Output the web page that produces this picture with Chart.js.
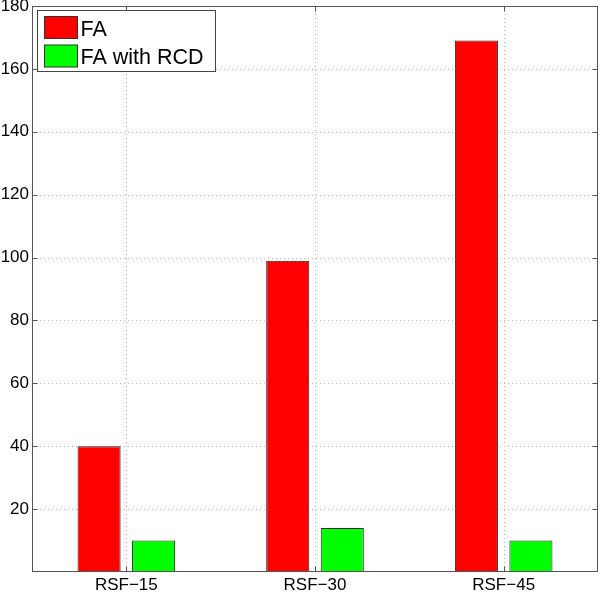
<!DOCTYPE html>
<html>
<head>
<meta charset="utf-8">
<script src="https://cdn.jsdelivr.net/npm/chart.js@4.4.0/dist/chart.umd.min.js"></script>
<style>
html,body{margin:0;padding:0;background:#fff;}
#wrap{width:600px;height:594px;position:relative;}
</style>
</head>
<body>
<div id="wrap"><canvas id="c" width="600" height="594"></canvas></div>
<script>
const categories = ['RSF\u221215', 'RSF\u221230', 'RSF\u221245'];
const seriesNames = ['FA', 'FA with RCD'];
const faValues = [40, 99, 169];
const faRcdValues = [10, 14, 10];
const yTicks = [20, 40, 60, 80, 100, 120, 140, 160, 180];
const seriesColors = ['#ff0000', '#00ff00'];

const FONT = 'Liberation Sans, Helvetica, Arial, sans-serif';

const matlabAxes = {
  id: 'matlabAxes',
  beforeDatasetsDraw(chart) {
    const {ctx, chartArea: a, scales: {x, y}} = chart;
    ctx.save();
    ctx.strokeStyle = '#b8b8b8';
    ctx.lineWidth = 1;
    ctx.setLineDash([1, 3]);
    yTicks.forEach(v => {
      const py = Math.round(y.getPixelForValue(v)) + 0.5;
      ctx.beginPath(); ctx.moveTo(a.left, py); ctx.lineTo(a.right, py); ctx.stroke();
    });
    categories.forEach((c, i) => {
      const px = Math.round(x.getPixelForValue(i)) + 0.5;
      ctx.beginPath(); ctx.moveTo(px, a.top); ctx.lineTo(px, a.bottom); ctx.stroke();
    });
    ctx.restore();
  },
  afterDatasetsDraw(chart) {
    const {ctx, chartArea: a, scales: {x, y}} = chart;
    ctx.save();
    ctx.strokeStyle = '#555';
    ctx.lineWidth = 1;
    ctx.setLineDash([]);
    const L = Math.round(a.left) + 0.5, R = Math.round(a.right) - 0.5;
    const T = Math.round(a.top) + 0.5, B = Math.round(a.bottom) - 0.5;
    ctx.strokeRect(L, T, R - L, B - T);
    const tl = 5;
    ctx.beginPath();
    yTicks.forEach(v => {
      const py = Math.round(y.getPixelForValue(v)) + 0.5;
      ctx.moveTo(L, py); ctx.lineTo(L + tl, py);
      ctx.moveTo(R, py); ctx.lineTo(R - tl, py);
    });
    categories.forEach((c, i) => {
      const px = Math.round(x.getPixelForValue(i)) + 0.5;
      ctx.moveTo(px, B); ctx.lineTo(px, B - tl);
      ctx.moveTo(px, T); ctx.lineTo(px, T + tl);
    });
    ctx.stroke();
    // legend
    const lx = 37.5, ly = 10.5, lw = 178, lh = 61;
    ctx.fillStyle = '#fff';
    ctx.fillRect(lx, ly, lw, lh);
    ctx.strokeStyle = '#444';
    ctx.strokeRect(lx, ly, lw, lh);
    const rows = [16, 44.5];
    chart.data.datasets.forEach((ds, i) => {
      ctx.fillStyle = ds.backgroundColor;
      ctx.fillRect(44.5, rows[i] + 0.5, 33, 22);
      ctx.strokeStyle = '#333';
      ctx.strokeRect(44.5, rows[i] + 0.5, 33, 22);
      ctx.fillStyle = '#000';
      ctx.font = '21.5px ' + FONT;
      ctx.textBaseline = 'alphabetic';
      ctx.textAlign = 'left';
      ctx.fillText(ds.label, 80.5, rows[i] + 19.5);
    });
    ctx.restore();
  }
};

new Chart(document.getElementById('c'), {
  type: 'bar',
  data: {
    labels: categories,
    datasets: [
      {label: seriesNames[0], data: faValues, backgroundColor: seriesColors[0], borderColor: '#222', borderWidth: 1,
       borderSkipped: false, categoryPercentage: 0.578, barPercentage: 0.79},
      {label: seriesNames[1], data: faRcdValues, backgroundColor: seriesColors[1], borderColor: '#222', borderWidth: 1,
       borderSkipped: false, categoryPercentage: 0.578, barPercentage: 0.79}
    ]
  },
  options: {
    responsive: false,
    animation: false,
    devicePixelRatio: 1,
    layout: {padding: {top: 6, right: 2, left: 0, bottom: 0}},
    plugins: {legend: {display: false}, tooltip: {enabled: false}},
    scales: {
      x: {
        offset: true,
        grid: {display: false, drawTicks: false},
        border: {display: false},
        ticks: {color: '#000', font: {family: FONT, size: 17}, padding: 3, maxRotation: 0},
        afterFit(s) { s.height = 22; s.paddingLeft = 0; s.paddingRight = 0; }
      },
      y: {
        min: 0, max: 180,
        afterBuildTicks(s) { s.ticks = yTicks.map(v => ({value: v})); },
        grid: {display: false, drawTicks: false},
        border: {display: false},
        ticks: {color: '#000', font: {family: FONT, size: 17}, padding: 3},
        afterFit(s) { s.width = 32; s.paddingTop = 0; s.paddingBottom = 0; }
      }
    }
  },
  plugins: [matlabAxes]
});
</script>
</body>
</html>
